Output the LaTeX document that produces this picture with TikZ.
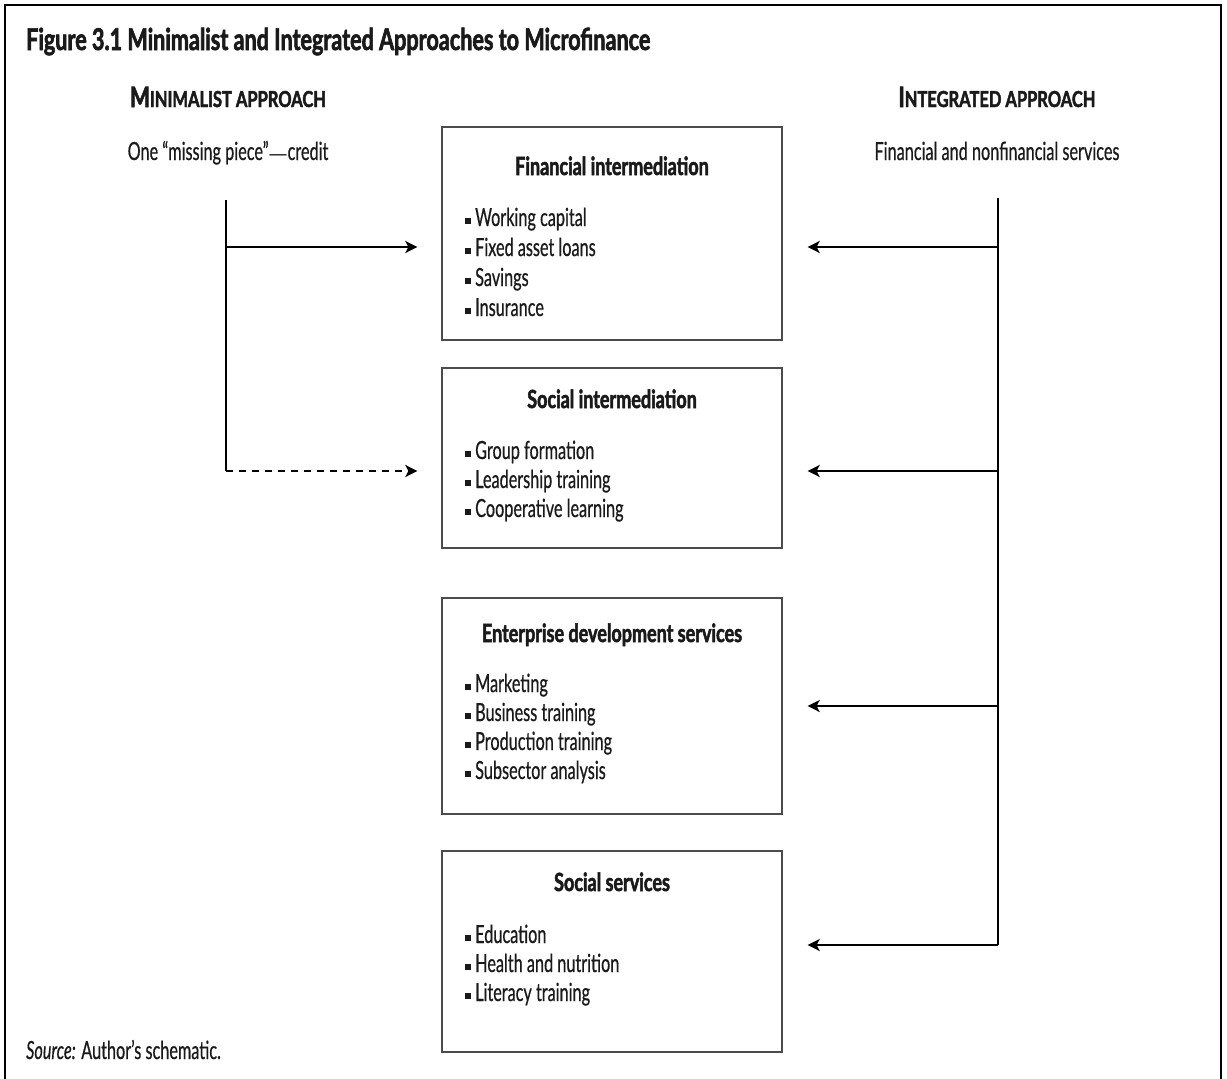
\documentclass[tikz,border=0pt]{standalone}
\usepackage{fontspec}
\setmainfont[FakeStretch=0.65, FakeBold=0.5]{Lato}
\newfontfamily\headf[FakeStretch=0.72, BoldFeatures={FakeBold=2}]{Lato}
\newfontfamily\scf[FakeStretch=0.75, BoldFeatures={FakeBold=2}]{Lato}
\newfontfamily\dvf{DejaVu Sans}
\usetikzlibrary{arrows.meta}
\definecolor{ink}{HTML}{1A1A1A}
\newcommand\sqb{\rule[2pt]{6pt}{6pt}\hspace{4pt}}
\newcommand\longdash{{\dvf\fontsize{19}{30}\selectfont —}}
\tikzset{
  frame/.style={line width=2pt, draw=black},
  box/.style={draw=black!70, line width=1.3pt, minimum width=340pt, inner sep=0pt},
  conn/.style={line width=2.8pt, draw=black},
  tip/.style={-{Stealth[length=12pt,width=12pt,inset=3pt]}},
  heading/.style={font=\headf\fontsize{25}{30}\selectfont\bfseries, text=ink, anchor=base, inner sep=0pt},
  item/.style={font=\fontsize{25}{30}\selectfont, text=ink, anchor=base west, inner sep=0pt},
  side/.style={font=\fontsize{25}{30}\selectfont, text=ink, anchor=base, inner sep=0pt},
  sidehead/.style={text=ink, anchor=base, inner sep=0pt, font=\scf\bfseries},
  titletext/.style={font=\headf\fontsize{30}{36}\selectfont\bfseries, text=ink, anchor=base west, inner sep=0pt},
  srctext/.style={font=\fontsize{25}{30}\selectfont, text=ink, anchor=base west, inner sep=0pt},
}
\newcommand\bigC[1]{{\fontsize{28}{32}\selectfont #1}}
\newcommand\smC[1]{{\fontsize{22}{32}\selectfont #1}}
\begin{document}
\begin{tikzpicture}[x=1pt,y=-1pt]
\useasboundingbox (0,0) rectangle (1227,1079);
\fill[white] (0,0) rectangle (1227,1079);
\draw[frame] (5,1090) -- (5,5) -- (1221,5) -- (1221,1090);

\node[titletext] (title) at (26,50) {Figure 3.1 Minimalist and Integrated Approaches to Microfinance};

\node[sidehead] (minh) at (228,107) {\bigC{M}\smC{INIMALIST APPROACH}};
\node[sidehead] (inth) at (997,107) {\bigC{I}\smC{NTEGRATED APPROACH}};
\node[side] (mins) at (228,160) {One “missing piece”\longdash credit};
\node[side] (ints) at (997,160) {Financial and nonfinancial services};

% boxes
\node[box, minimum height=213pt] (b1) at (612,233.5) {};
\node[box, minimum height=180pt] (b2) at (612,458) {};
\node[box, minimum height=216pt] (b3) at (612,706) {};
\node[box, minimum height=201pt] (b4) at (612,951.5) {};

\node[heading] (h1) at (612,175) {Financial intermediation};
\node[item] (i11) at (465,226) {\sqb Working capital};
\node[item] (i12) at (465,256) {\sqb Fixed asset loans};
\node[item] (i13) at (465,286) {\sqb Savings};
\node[item] (i14) at (465,316) {\sqb Insurance};

\node[heading] (h2) at (612,408) {Social intermediation};
\node[item] (i21) at (465,459) {\sqb Group formation};
\node[item] (i22) at (465,488) {\sqb Leadership training};
\node[item] (i23) at (465,517) {\sqb Cooperative learning};

\node[heading] (h3) at (612,642) {Enterprise development services};
\node[item] (i31) at (465,692) {\sqb Marketing};
\node[item] (i32) at (465,721) {\sqb Business training};
\node[item] (i33) at (465,750) {\sqb Production training};
\node[item] (i34) at (465,779) {\sqb Subsector analysis};

\node[heading] (h4) at (612,891) {Social services};
\node[item] (i41) at (465,943) {\sqb Education};
\node[item] (i42) at (465,972) {\sqb Health and nutrition};
\node[item] (i43) at (465,1001) {\sqb Literacy training};

\node[srctext] (src) at (26,1059) {\textit{Source:} Author’s schematic.};

% left connectors
\coordinate (ltop) at (226,200);
\coordinate (l1) at (226,247);
\coordinate (lbot) at (226,471);
\draw[conn] (ltop) -- (lbot);
\draw[conn, tip, shorten >=24pt] (l1) -- (l1 -| b1.west);
\draw[conn, tip, dash pattern=on 7pt off 6pt, shorten >=24pt] (lbot) -- (lbot -| b2.west);

% right connectors
\coordinate (rtop) at (998,198);
\coordinate (r1) at (998,247);
\coordinate (r2) at (998,471);
\coordinate (r3) at (998,706);
\coordinate (rbot) at (998,945);
\draw[conn] (rtop) -- (rbot);
\draw[conn, tip, shorten >=25pt] (r1) -- (r1 -| b1.east);
\draw[conn, tip, shorten >=25pt] (r2) -- (r2 -| b2.east);
\draw[conn, tip, shorten >=25pt] (r3) -- (r3 -| b3.east);
\draw[conn, tip, shorten >=25pt] (rbot) -- (rbot -| b4.east);
\end{tikzpicture}
\end{document}
